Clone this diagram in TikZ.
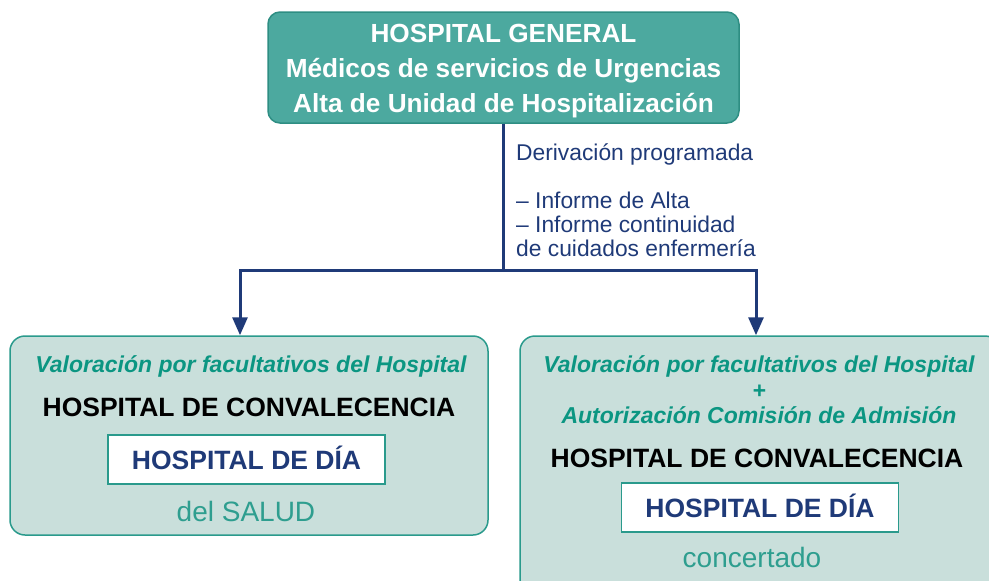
\documentclass[tikz,border=0pt]{standalone}
\usepackage{fontspec}
\setmainfont{Liberation Sans}
\usetikzlibrary{arrows.meta}
\definecolor{topfill}{HTML}{4CA99F}
\definecolor{topline}{HTML}{2E8E83}
\definecolor{navy}{HTML}{1F3A78}
\definecolor{panelfill}{HTML}{C9DFDB}
\definecolor{panelline}{HTML}{2A9A8C}
\definecolor{tealtext}{HTML}{0B9682}
\definecolor{softteal}{HTML}{2E9E8F}

\begin{document}
\begin{tikzpicture}[x=1pt, y=-1pt,
  topbox/.style={draw=topline, fill=topfill, line width=1.5pt, rounded corners=12pt, minimum width=471pt, minimum height=111pt},
  panel/.style={draw=panelline, fill=panelfill, line width=1.5pt, rounded corners=15pt},
  inset/.style={draw=panelline, fill=white, line width=1.5pt, minimum width=277pt, minimum height=49pt, text height=19pt, text depth=0pt, text=navy, font=\fontsize{26.5}{30}\selectfont\bfseries},
  link/.style={navy, line width=3pt},
  flow/.style={link, -{Triangle[length=18pt,width=15pt]}},
  label/.style={anchor=base, inner sep=0pt},
  assess/.style={label, text=tealtext, font=\fontsize{23}{26}\selectfont\bfseries\itshape},
  heading/.style={label, text=black, font=\fontsize{26.5}{30}\selectfont\bfseries},
  origin/.style={label, text=softteal, font=\fontsize{28}{30}\selectfont}]
\clip (0,0) rectangle (989,581);
\useasboundingbox (0,0) rectangle (989,581);
% Draw top box
\node[topbox] (top) at (503.5,67.5) {};
\node[anchor=north, inner sep=0pt, align=center, text=white, font=\fontsize{26.2}{35}\selectfont\bfseries] (toptext) at (503.5,24.5)
  {HOSPITAL GENERAL\\ Médicos de servicios de Urgencias\\ Alta de Unidad de Hospitalización};
% Draw panels
\node[panel, minimum width=478pt, minimum height=199pt] (lbox) at (249,435.5) {};
\node[panel, minimum width=480pt, minimum height=259pt] (rbox) at (760,465.5) {};
% Draw connectors
\coordinate (split) at (503.5,270);
\draw[link] (top.south) -- (split);
\foreach \tgt/\dx in {lbox/-9,rbox/-4}
  \draw[flow] (split) -| ([xshift=\dx pt]\tgt.north);
\node[anchor=north west, inner sep=0pt, align=left, text=navy, font=\fontsize{22.8}{24}\selectfont] (route) at (516,144)
  {Derivación programada\\[24pt] – Informe de Alta\\ – Informe continuidad\\ de cuidados enfermería};
% Left panel
\node[assess] (lval) at (251,372) {Valoración por facultativos del Hospital};
\node[heading] (lconv) at (249,416) {HOSPITAL DE CONVALECENCIA};
\node[inset] (lday) at (246.5,459.5) {HOSPITAL DE DÍA};
\node[origin] (lsrc) at (246,521) {del SALUD};
% Right panel
\node[assess] (rval) at (759,372) {Valoración por facultativos del Hospital};
\node[assess] (rplus) at (759,398) {+};
\node[assess] (rauth) at (759,423) {Autorización Comisión de Admisión};
\node[heading] (rconv) at (757,467) {HOSPITAL DE CONVALECENCIA};
\node[inset] (rday) at (760,507.5) {HOSPITAL DE DÍA};
\node[origin] (rsrc) at (752,567) {concertado};
\end{tikzpicture}
\end{document}
